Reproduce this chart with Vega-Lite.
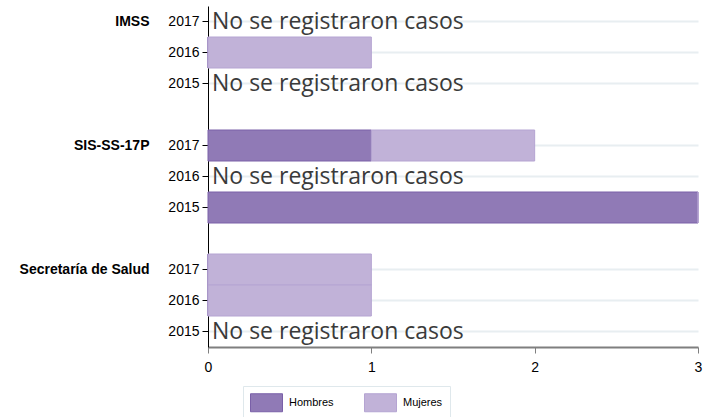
{
  "$schema": "https://vega.github.io/schema/vega-lite/v6.json",
  "width": 490,
  "height": 341,
  "autosize": {"type": "none"},
  "padding": {"left": 208, "top": 6, "right": 13, "bottom": 70},
  "background": "white",
  "config": {"view": {"stroke": null}, "font": "Liberation Sans"},
  "datasets": {
    "barras": [
      {"fila": "IMSS|2016", "sexo": "Hombres", "orden": 1, "casos": 0},
      {"fila": "IMSS|2016", "sexo": "Mujeres", "orden": 2, "casos": 1},
      {"fila": "SIS-SS-17P|2017", "sexo": "Hombres", "orden": 1, "casos": 1},
      {"fila": "SIS-SS-17P|2017", "sexo": "Mujeres", "orden": 2, "casos": 1},
      {"fila": "SIS-SS-17P|2015", "sexo": "Hombres", "orden": 1, "casos": 3},
      {"fila": "SIS-SS-17P|2015", "sexo": "Mujeres", "orden": 2, "casos": 0},
      {"fila": "Secretaría de Salud|2017", "sexo": "Hombres", "orden": 1, "casos": 0},
      {"fila": "Secretaría de Salud|2017", "sexo": "Mujeres", "orden": 2, "casos": 1},
      {"fila": "Secretaría de Salud|2016", "sexo": "Hombres", "orden": 1, "casos": 0},
      {"fila": "Secretaría de Salud|2016", "sexo": "Mujeres", "orden": 2, "casos": 1}
    ],
    "sin_casos": [
      {"fila": "IMSS|2017", "etiqueta": "No se  registraron casos"},
      {"fila": "IMSS|2015", "etiqueta": "No se  registraron casos"},
      {"fila": "SIS-SS-17P|2016", "etiqueta": "No se  registraron casos"},
      {"fila": "Secretaría de Salud|2015", "etiqueta": "No se  registraron casos"}
    ]
  },
  "layer": [
    {
      "data": {"name": "barras"},
      "mark": {"type": "bar", "strokeWidth": 1, "opacity": 1},
      "encoding": {
        "y": {
          "field": "fila",
          "type": "nominal",
          "sort": null,
          "scale": {
            "domain": ["IMSS|2017", "IMSS|2016", "IMSS|2015", "hueco1", "SIS-SS-17P|2017", "SIS-SS-17P|2016", "SIS-SS-17P|2015", "hueco2", "Secretaría de Salud|2017", "Secretaría de Salud|2016", "Secretaría de Salud|2015"],
            "paddingInner": 0,
            "paddingOuter": 0
          },
          "axis": {
            "orient": "left",
            "title": null,
            "values": ["IMSS|2017", "IMSS|2016", "IMSS|2015", "SIS-SS-17P|2017", "SIS-SS-17P|2016", "SIS-SS-17P|2015", "Secretaría de Salud|2017", "Secretaría de Salud|2016", "Secretaría de Salud|2015"],
            "labelExpr": "split(datum.value, '|')[1]",
            "domainColor": "#000000",
            "domainWidth": 1,
            "tickColor": "#000000",
            "tickSize": 6,
            "labelFontSize": 14,
            "labelColor": "#000000",
            "labelPadding": 3,
            "grid": true,
            "gridColor": "#e8eef1",
            "gridWidth": 2
          }
        },
        "x": {
          "field": "casos",
          "type": "quantitative",
          "stack": "zero",
          "scale": {"domain": [0, 3], "nice": false},
          "axis": {
            "title": null,
            "grid": false,
            "values": [0, 1, 2, 3],
            "format": "d",
            "labelFlush": false,
            "domainColor": "#7f7f7f",
            "domainWidth": 2,
            "tickColor": "#7f7f7f",
            "tickSize": 6,
            "labelFontSize": 14,
            "labelColor": "#000000",
            "labelPadding": 7
          }
        },
        "color": {
          "field": "sexo",
          "type": "nominal",
          "scale": {"domain": ["Hombres", "Mujeres"], "range": ["#907ab6", "#c1b2d8"]},
          "legend": {
            "title": null,
            "orient": "none",
            "legendX": 35,
            "legendY": 380,
            "direction": "horizontal",
            "symbolType": "M-1,-1H2.5556V1H-1Z",
            "symbolSize": 324,
            "symbolStrokeWidth": 1,
            "symbolOpacity": 1,
            "labelFont": "Liberation Sans",
            "labelFontSize": 11,
            "labelColor": "#000000",
            "labelOffset": 20,
            "columnPadding": 28,
            "padding": 7,
            "strokeColor": "#dfe8ec"
          }
        },
        "stroke": {
          "field": "sexo",
          "type": "nominal",
          "scale": {"domain": ["Hombres", "Mujeres"], "range": ["#7a60a8", "#b5a4d2"]}
        },
        "order": {"field": "orden", "type": "quantitative"}
      }
    },
    {
      "data": {"name": "sin_casos"},
      "mark": {"type": "text", "align": "left", "baseline": "middle", "dx": 4, "font": "Open Sans", "fontSize": 23, "color": "#3a3a3a"},
      "encoding": {
        "y": {
          "field": "fila",
          "type": "nominal",
          "axis": {
            "orient": "left",
            "title": null,
            "values": ["IMSS|2017", "SIS-SS-17P|2017", "Secretaría de Salud|2017"],
            "labelExpr": "split(datum.value, '|')[0]",
            "domain": false,
            "ticks": false,
            "grid": false,
            "labelFontSize": 14,
            "labelFontWeight": "bold",
            "labelColor": "#000000",
            "labelPadding": 59
          }
        },
        "x": {"datum": 0},
        "text": {"field": "etiqueta"}
      }
    }
  ],
  "resolve": {"axis": {"y": "independent"}}
}
